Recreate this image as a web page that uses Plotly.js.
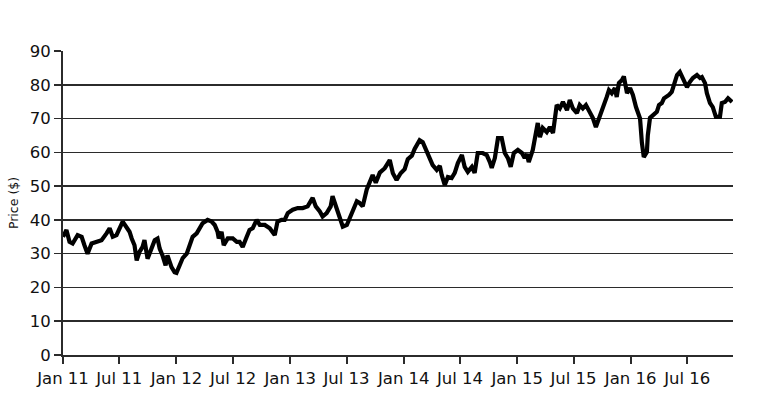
<!DOCTYPE html>
<html>
<head>
<meta charset="utf-8">
<script src="https://cdn.plot.ly/plotly-3.0.1.min.js"></script>
<style>html,body{margin:0;padding:0;background:#fff;}#chart{width:781px;height:404px;}</style>
</head>
<body>
<div id="chart"></div>
<script>
const dates = [
"2011-01-01","2011-01-12","2011-01-22","2011-02-01","2011-02-17","2011-03-02","2011-03-11","2011-03-21","2011-04-03","2011-04-19",
"2011-05-05","2011-05-21","2011-05-31","2011-06-10","2011-06-22","2011-07-12","2011-07-25","2011-08-03","2011-08-10","2011-08-19",
"2011-08-26","2011-09-04","2011-09-14","2011-09-20","2011-09-30","2011-10-13","2011-10-23","2011-11-01","2011-11-08","2011-11-17",
"2011-11-27","2011-12-03","2011-12-16","2011-12-26","2012-01-01","2012-01-11","2012-01-21","2012-02-03","2012-02-12","2012-02-22",
"2012-03-06","2012-03-15","2012-03-25","2012-04-10","2012-04-23","2012-05-03","2012-05-12","2012-05-16","2012-05-25","2012-06-01",
"2012-06-14","2012-06-30","2012-07-13","2012-07-22","2012-08-01","2012-08-14","2012-08-23","2012-09-02","2012-09-15","2012-09-25",
"2012-10-11","2012-10-27","2012-11-12","2012-11-21","2012-12-04","2012-12-14","2012-12-24","2013-01-09","2013-01-25","2013-02-10",
"2013-02-26","2013-03-14","2013-03-24","2013-04-06","2013-04-15","2013-04-28","2013-05-11","2013-05-17","2013-05-30","2013-06-09",
"2013-06-19","2013-07-02","2013-07-11","2013-07-21","2013-08-03","2013-08-12","2013-08-22","2013-09-04","2013-09-14","2013-09-23",
"2013-10-03","2013-10-16","2013-11-01","2013-11-17","2013-11-27","2013-12-09","2013-12-22","2014-01-04","2014-01-14","2014-01-27",
"2014-02-05","2014-02-21","2014-03-03","2014-03-16","2014-03-26","2014-04-04","2014-04-17","2014-04-27","2014-05-03","2014-05-13",
"2014-05-23","2014-06-04","2014-06-14","2014-06-24","2014-07-07","2014-07-16","2014-07-26","2014-08-08","2014-08-17","2014-08-27",
"2014-09-12","2014-09-25","2014-10-05","2014-10-11","2014-10-21","2014-10-31","2014-11-12","2014-11-22","2014-12-02","2014-12-11",
"2014-12-21","2015-01-03","2015-01-16","2015-01-25","2015-02-01","2015-02-07","2015-02-20","2015-02-27","2015-03-08","2015-03-15",
"2015-03-24","2015-04-06","2015-04-16","2015-04-26","2015-05-08","2015-05-18","2015-05-28","2015-06-10","2015-06-19","2015-06-29",
"2015-07-12","2015-07-21","2015-07-31","2015-08-10","2015-08-23","2015-09-01","2015-09-11","2015-09-24","2015-10-03","2015-10-16",
"2015-10-23","2015-11-01","2015-11-11","2015-11-17","2015-11-24","2015-12-04","2015-12-10","2015-12-20","2015-12-30","2016-01-08",
"2016-01-18","2016-01-24","2016-01-31","2016-02-06","2016-02-12","2016-02-22","2016-02-25","2016-03-03","2016-03-12","2016-03-25",
"2016-04-01","2016-04-10","2016-04-17","2016-04-26","2016-05-03","2016-05-12","2016-05-19","2016-05-29","2016-06-07","2016-06-17",
"2016-06-30","2016-07-09","2016-07-19","2016-08-01","2016-08-11","2016-08-17","2016-08-27","2016-09-02","2016-09-12","2016-09-21",
"2016-10-01","2016-10-14","2016-10-20","2016-10-30","2016-11-09","2016-11-22"
];
const prices = [
35,37,33.5,33,35.5,35,32.5,30,33,33.5,
34,36,37.5,35,35.5,39.5,38,36.5,34.5,32.5,
28,30.5,32,34,28.5,31.5,34,34.5,31.5,29.5,
26.5,29.5,26,24.5,24.3,26.5,28.7,30,32,35,
36,37.5,39,40,39.5,38.5,36.5,34.5,36.5,32.5,
34.5,34.5,33.5,33.5,32,35,37,37.5,40,38.5,
38.5,37.5,35.5,39.5,40,40,42,43,43.5,43.5,
44,46.5,44,42.5,41,42,44,47,43.5,40.5,
38,38.5,40.5,42.5,45.5,45,44,49,51,53.3,
51,54,55.3,57.7,53.8,51.8,53.8,55,58,59,
61,63.6,63,60,57.7,56.2,54.8,56,53.3,50.3,
52.7,52.4,53.9,56.8,59.2,55.7,54.2,55.7,53.9,59.8,
59.8,59.2,57.1,55.4,58.3,64.2,64.2,59.8,58.3,55.7,
59.8,60.7,59.8,58.3,59.5,57.1,60.7,64.5,68.7,64.5,
67.2,66,67.5,65.7,74,73,74.9,72.5,75.5,73,
71.6,74,73,74,72,70.2,67.5,70.5,73,76.4,
78.4,77.5,79,76.4,80.5,81.4,82.5,77.5,79,77,
73.4,72,70,62.8,58.6,60.1,65,70.2,71,72,
74,74.6,76,76.4,77,77.9,80,82.9,83.8,82,
79.3,80.8,82,82.9,82,82.3,80.5,77.5,74.6,73.4,
70.5,70.5,74.6,74.9,76,74.9
];
const tickDates = ["2011-01-01","2011-07-01","2012-01-01","2012-07-01","2013-01-01","2013-07-01",
"2014-01-01","2014-07-01","2015-01-01","2015-07-01","2016-01-01","2016-07-01"];
const tickLabels = ["Jan 11","Jul 11","Jan 12","Jul 12","Jan 13","Jul 13",
"Jan 14","Jul 14","Jan 15","Jul 15","Jan 16","Jul 16"];
const yTicks = [0,10,20,30,40,50,60,70,80,90];

const trace = {
  x: dates, y: prices, type: 'scatter', mode: 'lines',
  line: {color: '#000', width: 4.2, shape: 'linear'},
  hoverinfo: 'skip'
};
const layout = {
  width: 781, height: 404,
  margin: {l: 63, r: 48, t: 51, b: 49},
  paper_bgcolor: '#fff', plot_bgcolor: '#fff',
  showlegend: false,
  font: {family: 'DejaVu Sans, sans-serif', color: '#111', size: 16},
  xaxis: {
    type: 'date', range: ['2011-01-01', '2016-11-25'],
    tickmode: 'array', tickvals: tickDates, ticktext: tickLabels,
    showgrid: false, zeroline: false,
    showline: true, linecolor: '#2b2b2b', linewidth: 2,
    ticks: 'outside', ticklen: 7, tickwidth: 2, tickcolor: '#2b2b2b',
    tickfont: {size: 16.5, color: '#111'}, tickangle: 0
  },
  yaxis: {
    range: [0, 90], tickmode: 'array', tickvals: yTicks,
    showgrid: true, gridcolor: '#2b2b2b', gridwidth: 1.5,
    zeroline: false, showline: true, linecolor: '#2b2b2b', linewidth: 2,
    ticks: 'outside', ticklen: 7, tickwidth: 1.5, tickcolor: '#2b2b2b',
    tickfont: {size: 16.5, color: '#111'},
    title: {text: 'Price ($)', font: {size: 12.5, color: '#111'}, standoff: 8}
  }
};
Plotly.newPlot('chart', [trace], layout, {staticPlot: true, displayModeBar: false});
</script>
</body>
</html>
